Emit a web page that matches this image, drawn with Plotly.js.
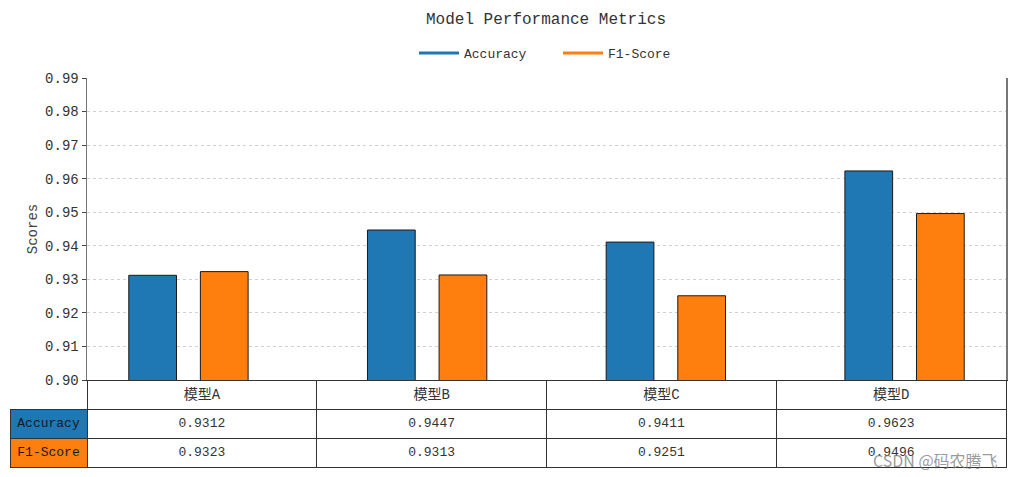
<!DOCTYPE html>
<html>
<head>
<meta charset="utf-8">
<script src="https://cdn.plot.ly/plotly-3.0.1.min.js"></script>
<style>html,body{margin:0;padding:0;background:#fff}#chart{width:1016px;height:477px}</style>
</head>
<body>
<div id="chart"></div>
<script>
const models = ['模型A', '模型B', '模型C', '模型D'];
const accuracy = [0.9312, 0.9447, 0.9411, 0.9623];
const f1score = [0.9323, 0.9313, 0.9251, 0.9496];
const seriesNames = ['Accuracy', 'F1-Score'];
const seriesColors = ['#1f77b4', '#ff7f0e'];

const FONT = '"Liberation Mono", "Noto Sans CJK SC", monospace';
const W = 1016, H = 477;
const mL = 10, mR = 10, mT = 78, mB = 8;
const pw = W - mL - mR, ph = H - mT - mB;
const axLeft = 87, axBottom = 380;
const xDom0 = (axLeft - mL) / pw;
const yDom0 = (H - mB - axBottom) / ph;
const colW = (W - mR - axLeft) / 4;

const traces = [
  {type: 'bar', x: models, y: accuracy, name: seriesNames[0], width: 0.2, offset: -0.1,
   marker: {color: seriesColors[0], line: {color: '#1a1a1a', width: 1}}, showlegend: false},
  {type: 'bar', x: models, y: f1score, name: seriesNames[1], width: 0.2, offset: 0.2,
   marker: {color: seriesColors[1], line: {color: '#1a1a1a', width: 1}}, showlegend: false},
  {type: 'scatter', x: [null], y: [null], mode: 'lines', name: seriesNames[0],
   line: {color: seriesColors[0], width: 3}},
  {type: 'scatter', x: [null], y: [null], mode: 'lines', name: seriesNames[1],
   line: {color: seriesColors[1], width: 3}},
  {type: 'table',
   domain: {x: [0, 1], y: [0, yDom0]},
   columnwidth: [axLeft - mL, colW, colW, colW, colW],
   header: {
     values: [''].concat(models),
     height: 29,
     align: 'center',
     fill: {color: ['rgba(0,0,0,0)', 'white', 'white', 'white', 'white']},
     line: {color: ['rgba(0,0,0,0)', '#333', '#333', '#333', '#333'], width: 1},
     font: {family: FONT, size: 14, color: '#333'}
   },
   cells: {
     values: [seriesNames].concat(models.map((m, i) => [accuracy[i].toFixed(4), f1score[i].toFixed(4)])),
     height: 29,
     align: 'center',
     fill: {color: [seriesColors, 'white', 'white', 'white', 'white']},
     line: {color: '#333', width: 1},
     font: {family: FONT, size: 13, color: ['#1a1a1a', '#333', '#333', '#333', '#333']}
   }
  }
];

const layout = {
  width: W, height: H,
  margin: {l: mL, r: mR, t: mT, b: mB, autoexpand: false},
  paper_bgcolor: 'white', plot_bgcolor: 'white',
  font: {family: FONT, color: '#333', size: 13},
  title: {text: 'Model Performance Metrics', x: (546 - mL) / pw, xref: 'paper', xanchor: 'center',
          y: 1 - 18 / H, yref: 'container', yanchor: 'middle',
          font: {family: FONT, size: 16, color: '#333'}},
  barmode: 'overlay',
  showlegend: true,
  legend: {orientation: 'h', x: (558 - mL) / pw, xanchor: 'center', y: 1 + (mT - 53) / ph, yanchor: 'middle',
           font: {family: FONT, size: 13, color: '#333'}, itemwidth: 40, entrywidth: 89, entrywidthmode: 'pixels'},
  xaxis: {domain: [xDom0, 1], range: [-0.275, 3.575], showticklabels: false, ticks: '',
          showgrid: false, zeroline: false, showline: true, linecolor: '#222', linewidth: 1.2,
          fixedrange: true, automargin: false},
  yaxis: {domain: [yDom0, 1], range: [0.90, 0.99], dtick: 0.01, tick0: 0.90, tickformat: '.2f',
          ticks: 'outside', ticklen: 4, tickcolor: '#444', showline: true, mirror: true,
          linecolor: '#777', linewidth: 1.5, showgrid: true, gridcolor: '#d0d0d0', griddash: 'dot',
          gridwidth: 1, zeroline: false, automargin: false,
          tickfont: {family: FONT, size: 14, color: '#333'},
          title: {text: 'Scores', standoff: 4, font: {family: FONT, size: 14, color: '#444'}}},
  annotations: [
    {text: 'CSDN @码农腾飞', xref: 'paper', yref: 'paper', x: (1000 - mL) / pw, xanchor: 'right',
     y: (H - mB - 460) / ph, yanchor: 'middle', showarrow: false,
     font: {family: '"Noto Sans CJK SC", sans-serif', size: 16, color: 'rgba(120,120,120,0.75)'}}
  ]
};

Plotly.newPlot('chart', traces, layout, {displayModeBar: false, staticPlot: true});
</script>
</body>
</html>
